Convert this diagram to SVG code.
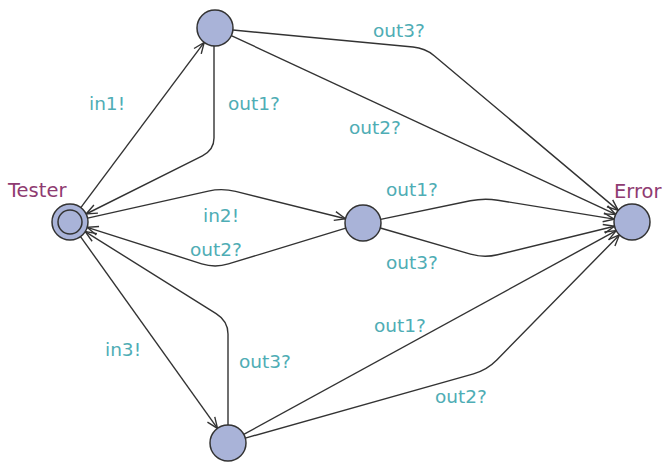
<svg xmlns="http://www.w3.org/2000/svg" width="663" height="463" viewBox="0 0 663 463">
  <style>
    .loc { fill: #a9b3d8; stroke: #333; stroke-width: 1.5; }
    .edge { fill: none; stroke: #333; stroke-width: 1.4; marker-end: url(#arr); }
    .lbl { font-family: "DejaVu Sans", "Liberation Sans", sans-serif; font-size: 18.5px; fill: #4fadb5; }
    .name { font-family: "DejaVu Sans", "Liberation Sans", sans-serif; font-size: 19.5px; fill: #8f3b71; }
  </style>
  <defs>
    <marker id="arr" markerUnits="userSpaceOnUse" markerWidth="14" markerHeight="12" viewBox="-12 -6 14 12" refX="0" refY="0" orient="auto">
      <path d="M-11,-4.5 L0,0 L-11,4.5" fill="none" stroke="#333" stroke-width="1.4"/>
    </marker>
  </defs>
  <rect width="663" height="463" fill="#fff"/>

  <g id="edges">
    <path class="edge" d="M80.8,207.6 L204.2,42.4"/>
    <path class="edge" d="M214,46 L214,138 Q214,150 202.4,155.8 L86.1,214"/>
    <path class="edge" d="M233,30 L413,47 Q425,48 434.2,55.7 L618.2,210.4"/>
    <path class="edge" d="M231.3,35.6 L615.7,214.4"/>
    <path class="edge" d="M87.6,218.1 L208.3,191.1 Q222,188 235.6,191.4 L345.5,218.7"/>
    <path class="edge" d="M345.8,228.2 L228.4,263.9 Q215,268 201.7,263.8 L87.2,227.4"/>
    <path class="edge" d="M380.6,219.4 L470.3,200.8 Q484,198 497.8,200.2 L614.2,219.1"/>
    <path class="edge" d="M380.3,228 L470.5,254.1 Q484,258 497.6,254.7 L614.5,226.2"/>
    <path class="edge" d="M80.5,236.6 L217.5,428.4"/>
    <path class="edge" d="M228,425 L228,334 Q228,321 216.1,313.6 L85.2,231.6"/>
    <path class="edge" d="M243.8,434.4 L616.2,230.6"/>
    <path class="edge" d="M245.3,438.1 L473.5,373.8 Q487,370 496.8,360 L619.4,234.9"/>
  </g>

  <g id="labels">
    <text class="lbl" x="89" y="110">in1!</text>
    <text class="lbl" x="228" y="110">out1?</text>
    <text class="lbl" x="373" y="37">out3?</text>
    <text class="lbl" x="349" y="134">out2?</text>
    <text class="lbl" x="203" y="222">in2!</text>
    <text class="lbl" x="190" y="256">out2?</text>
    <text class="lbl" x="386" y="196">out1?</text>
    <text class="lbl" x="386" y="269">out3?</text>
    <text class="lbl" x="105" y="356">in3!</text>
    <text class="lbl" x="239" y="368">out3?</text>
    <text class="lbl" x="374" y="332">out1?</text>
    <text class="lbl" x="435" y="403">out2?</text>
  </g>

  <g id="tester">
    <circle class="loc" cx="70" cy="222" r="18"/>
    <circle class="loc" cx="70" cy="222" r="12"/>
    <text class="name" x="8" y="197">Tester</text>
  </g>
  <g id="s1">
    <circle class="loc" cx="215" cy="28" r="18"/>
  </g>
  <g id="s2">
    <circle class="loc" cx="363" cy="223" r="18"/>
  </g>
  <g id="s3">
    <circle class="loc" cx="228" cy="443" r="18"/>
  </g>
  <g id="error">
    <circle class="loc" cx="632" cy="222" r="18"/>
    <text class="name" x="614" y="198">Error</text>
  </g>
</svg>
